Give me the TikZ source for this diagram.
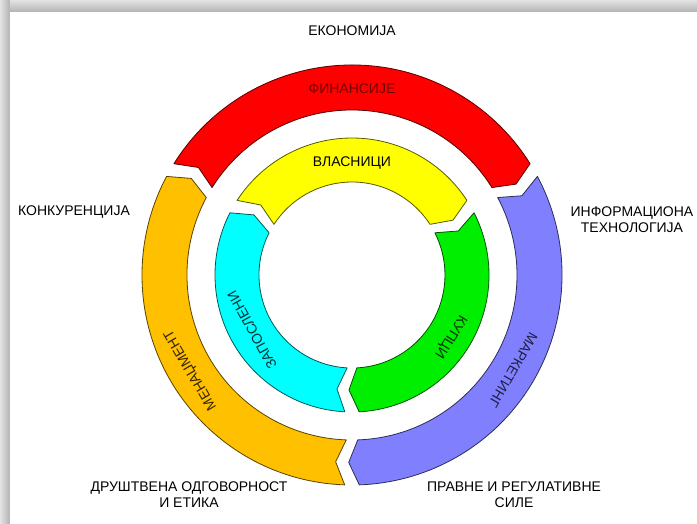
\documentclass[tikz,border=0pt]{standalone}
\usepackage{fontspec}
\setmainfont{Liberation Sans}
\definecolor{cred}{HTML}{FF0000}
\definecolor{cyellow}{HTML}{FFFF00}
\definecolor{cgreen}{HTML}{00EE00}
\definecolor{ccyan}{HTML}{00FFFF}
\definecolor{corange}{HTML}{FFC000}
\definecolor{cpurple}{HTML}{8080FF}
\newcommand\ringseg[6]{%
  \draw[#6] (#1:#3) arc[start angle=#1, end angle=#2, radius=#3]
    -- ({#2-#5}:{(#3+#4)/2}) -- (#2:#4)
    arc[start angle=#2, end angle=#1, radius=#4]
    -- ({#1-#5}:{(#3+#4)/2}) -- cycle;}
\begin{document}
\begin{tikzpicture}[x=1pt,y=1pt,
  lab/.style={font=\fontsize{14}{16}\selectfont, inner sep=0pt, align=center},
  segstyle/.style={fill=#1, draw=#1!35!black, line width=0.8pt, line join=round}]
% background and shadow
\useasboundingbox (-352,-248) rectangle (345,275);
\shade[top color=gray!22, bottom color=gray!60] (-352,263) rectangle (345,275);
\shade[left color=gray!22, right color=gray!60] (-352,-248) rectangle (-342,275);
\fill[white] (-342,-248) rectangle (345,263);
% outer ring
\ringseg{148}{32}{210}{165}{3}{segstyle=cred}
\ringseg{28}{-88}{210}{165}{3}{segstyle=cpurple}
\ringseg{268}{152}{210}{165}{3}{segstyle=corange}
% inner ring
\ringseg{147}{33}{137}{93}{4.5}{segstyle=cyellow}
\ringseg{27}{-87}{137}{93}{4.5}{segstyle=cgreen}
\ringseg{267}{153}{137}{93}{4.5}{segstyle=ccyan}
% ring labels
\node[lab, text=cred!45!black] (fin) at (90:186) {ФИНАНСИЈЕ};
\node[lab, text=black] (vla) at (90:112) {ВЛАСНИЦИ};
\node[lab, text=cpurple!25!black, rotate=-120] (mar) at (-30.5:187) {МАРКЕТИНГ};
\node[lab, text=cgreen!20!black, rotate=-122] (kup) at (-32:116) {КУПЦИ};
\node[lab, text=ccyan!20!black, rotate=118.8] (zap) at (208.8:114) {ЗАПОСЛЕНИ};
\node[lab, text=corange!20!black, rotate=120.5] (men) at (210.5:187) {МЕНАЏМЕНТ};
% outside labels
\node[lab] (eko) at (0,244) {ЕКОНОМИЈА};
\node[lab] (konk) at (-278,63) {КОНКУРЕНЦИЈА};
\node[lab] (info) at (280,55) {ИНФОРМАЦИОНА\\ТЕХНОЛОГИЈА};
\node[lab] (drus) at (-163,-220) {ДРУШТВЕНА ОДГОВОРНОСТ\\И ЕТИКА};
\node[lab] (prav) at (162,-220) {ПРАВНЕ И РЕГУЛАТИВНЕ\\СИЛЕ};
\end{tikzpicture}
\end{document}
